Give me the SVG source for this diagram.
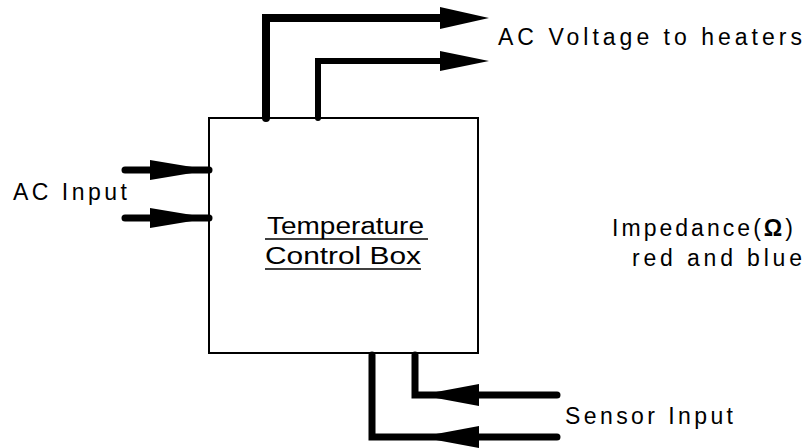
<svg xmlns="http://www.w3.org/2000/svg" width="805" height="448" viewBox="0 0 805 448">
<style>
.wire{fill:none;stroke:#000;stroke-linecap:round;stroke-linejoin:miter}
.head{fill:#000;stroke:none}
.lbl{font-family:"Liberation Sans","DejaVu Sans",sans-serif;font-size:23px;fill:#000}
.ul{stroke:#000;stroke-width:1.6}
</style>
<rect width="805" height="448" fill="#fff"/>
<g id="connectors">
  <polyline class="wire" stroke-width="8" points="266,118 266,18 445,18"/>
  <polygon class="head" points="440,7 489,18 440,29"/>
  <polyline class="wire" stroke-width="6" points="318,118 318,61 445,61"/>
  <polygon class="head" points="440,51 489,61 440,71"/>
  <line class="wire" stroke-width="7" x1="125" y1="170" x2="209" y2="170"/>
  <polygon class="head" points="150,160 210,170 150,180"/>
  <line class="wire" stroke-width="7" x1="125" y1="218" x2="209" y2="218"/>
  <polygon class="head" points="150,208 210,218 150,228"/>
  <polyline class="wire" stroke-width="7" points="557,395 415,395 415,355"/>
  <polygon class="head" points="479,384 420,395 479,406"/>
  <polyline class="wire" stroke-width="7" points="557,437 372,437 372,355"/>
  <polygon class="head" points="479,426 420,437 479,448"/>
</g>
<g id="control-box">
  <rect x="209" y="118" width="269" height="235" fill="none" stroke="#000" stroke-width="2"/>
  <text class="lbl" x="267" y="234" textLength="157" lengthAdjust="spacingAndGlyphs">Temperature</text>
  <line class="ul" x1="265" y1="239" x2="428" y2="239"/>
  <text class="lbl" x="265" y="264" textLength="156" lengthAdjust="spacingAndGlyphs">Control  Box</text>
  <line class="ul" x1="265" y1="269" x2="421" y2="269"/>
</g>
<g id="ac-voltage-label">
  <text class="lbl" x="498" y="45" textLength="304" lengthAdjust="spacing">AC Voltage  to  heaters</text>
</g>
<g id="ac-input-label">
  <text class="lbl" x="13" y="200" textLength="114" lengthAdjust="spacing">AC  Input</text>
</g>
<g id="sensor-input-label">
  <text class="lbl" x="565" y="424" textLength="168" lengthAdjust="spacing">Sensor  Input</text>
</g>
<g id="impedance-label">
  <text class="lbl" x="612" y="236" textLength="181" lengthAdjust="spacing">Impedance(<tspan font-weight="bold">Ω</tspan>)</text>
  <text class="lbl" x="632" y="266" textLength="170" lengthAdjust="spacing">red  and  blue</text>
</g>
</svg>
